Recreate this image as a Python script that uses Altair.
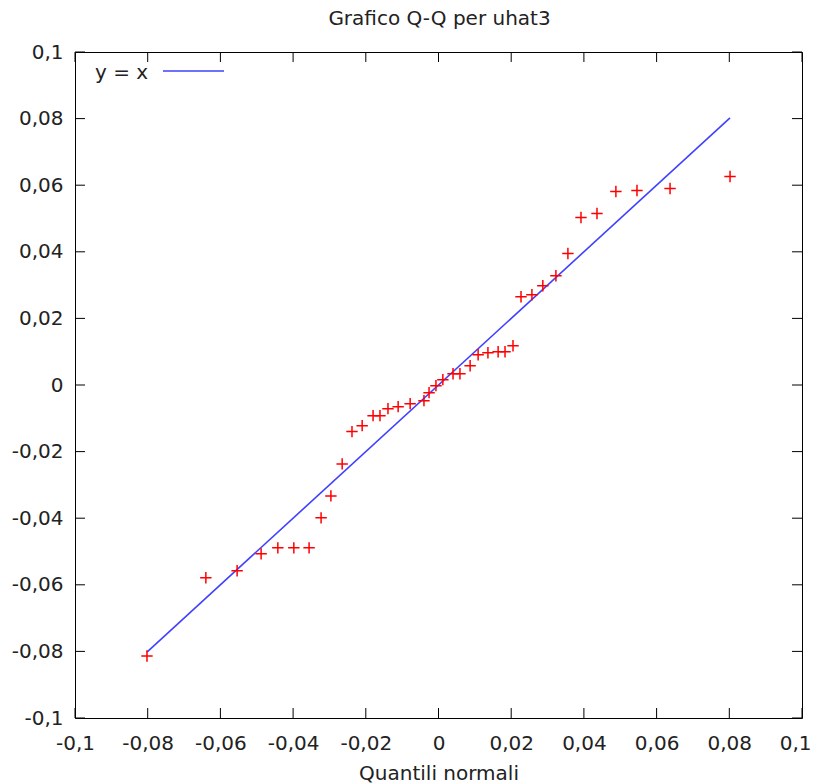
import altair as alt
import pandas as pd

# Normal quantiles (x) and sorted residuals uhat3 (y)
quantili = [-0.0802, -0.0640, -0.0554, -0.0488, -0.0442, -0.0398, -0.0356, -0.0323,
            -0.0296, -0.0265, -0.0238, -0.0210, -0.0180, -0.0161, -0.0139, -0.0111,
            -0.0078, -0.0040, -0.0026, -0.0007, 0.0012, 0.0040, 0.0059, 0.0087,
            0.0109, 0.0136, 0.0164, 0.0183, 0.0205, 0.0227, 0.0257, 0.0287,
            0.0323, 0.0356, 0.0392, 0.0436, 0.0488, 0.0546, 0.0637, 0.0802]
uhat3 = [-0.0814, -0.0579, -0.0558, -0.0507, -0.0489, -0.0489, -0.0489, -0.0399,
         -0.0333, -0.0237, -0.0140, -0.0122, -0.0092, -0.0092, -0.0071, -0.0065,
         -0.0056, -0.0047, -0.0023, -0.0002, 0.0016, 0.0034, 0.0034, 0.0058,
         0.0091, 0.0097, 0.0100, 0.0100, 0.0118, 0.0265, 0.0271, 0.0298,
         0.0328, 0.0395, 0.0503, 0.0515, 0.0581, 0.0584, 0.0590, 0.0626]
line_x = [-0.0802, 0.0802]
tick_values = [-0.1, -0.08, -0.06, -0.04, -0.02, 0, 0.02, 0.04, 0.06, 0.08, 0.1]

W, H = 727, 666
TL = 10
FONT = "DejaVu Sans"
TXT = "#222222"
FS = 20

pts = pd.DataFrame({"q": quantili, "u": uhat3})
line_df = pd.DataFrame({"q": line_x, "u": line_x})
xticks = pd.DataFrame({"q": tick_values})
yticks = pd.DataFrame({"u": tick_values})
one = pd.DataFrame({"a": [0]})

xs = alt.Scale(domain=[-0.1, 0.1], nice=False, zero=False)
ys = alt.Scale(domain=[-0.1, 0.1], nice=False, zero=False)
lab = "replace(toString(datum.value), '.', ',')"

PLUS = "M-1,0L1,0M0,-1L0,1"

X_AX = alt.Axis(
    values=tick_values, labelExpr=lab, title="Quantili normali",
    labelPadding=15, titlePadding=10, labelFlush=False,
    labelAlign={"condition": {"test": "datum.value >= 0.1", "value": "right"}, "value": "center"},
    labelOffset={"condition": {"test": "datum.value >= 0.1", "value": 9}, "value": 0},
)
Y_AX = alt.Axis(values=tick_values, labelExpr=lab, title=None, labelPadding=12)

points = alt.Chart(pts).mark_point(
    shape=PLUS, size=130, filled=False, color="#ff0000", strokeWidth=1.5, opacity=1
).encode(
    x=alt.X("q:Q", scale=xs, axis=X_AX),
    y=alt.Y("u:Q", scale=ys, axis=Y_AX),
)

line = alt.Chart(line_df).mark_line(color="#4040ff", strokeWidth=1.6).encode(
    x=alt.X("q:Q", scale=xs, axis=X_AX), y=alt.Y("u:Q", scale=ys, axis=Y_AX)
)

tb = alt.Chart(xticks).mark_rule(color="black", strokeWidth=1).encode(
    x=alt.X("q:Q", scale=xs, axis=X_AX), y=alt.value(H), y2=alt.value(H - TL))
tt = alt.Chart(xticks).mark_rule(color="black", strokeWidth=1).encode(
    x=alt.X("q:Q", scale=xs, axis=X_AX), y=alt.value(0), y2=alt.value(TL))
tlft = alt.Chart(yticks).mark_rule(color="black", strokeWidth=1).encode(
    y=alt.Y("u:Q", scale=ys, axis=Y_AX), x=alt.value(0), x2=alt.value(TL))
trt = alt.Chart(yticks).mark_rule(color="black", strokeWidth=1).encode(
    y=alt.Y("u:Q", scale=ys, axis=Y_AX), x=alt.value(W), x2=alt.value(W - TL))

leg_text = alt.Chart(one).mark_text(
    text="y = x", align="left", baseline="middle", font=FONT, fontSize=FS, color=TXT
).encode(x=alt.value(20), y=alt.value(21))
leg_line = alt.Chart(one).mark_rule(color="#4040ff", strokeWidth=1.6).encode(
    x=alt.value(88), x2=alt.value(149), y=alt.value(19))

title = alt.Chart(one).mark_text(
    text="Grafico Q-Q per uhat3", align="center", baseline="alphabetic",
    font=FONT, fontSize=FS, color=TXT
).encode(x=alt.value(W / 2 + 1), y=alt.value(-27))

chart = alt.layer(line, points, tb, tt, tlft, trt, leg_text, leg_line, title).properties(
    width=W, height=H,
    padding={"left": 67, "top": 44, "right": 10, "bottom": 66},
    autosize=alt.AutoSizeParams(type="none"),
).configure_view(stroke="black", strokeWidth=1).configure_axis(
    domain=False, ticks=False, grid=False, labelFont=FONT, labelFontSize=FS,
    labelColor=TXT, titleFont=FONT, titleFontSize=FS, titleFontWeight="normal",
    titleColor=TXT
)

chart.save("out.html", embed_options={"renderer": "svg", "actions": False})
